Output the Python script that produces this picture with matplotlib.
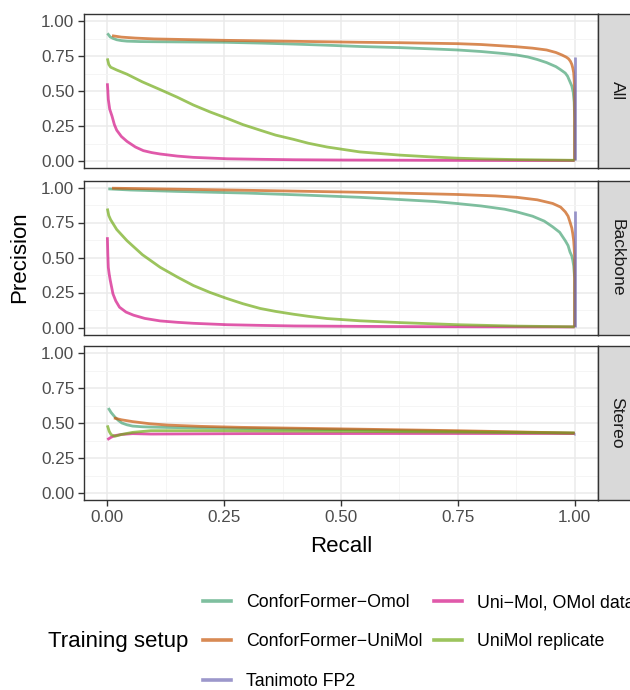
import matplotlib
matplotlib.use("Agg")
import matplotlib.pyplot as plt
from matplotlib.lines import Line2D
from matplotlib.ticker import MultipleLocator, FormatStrFormatter

plt.rcParams['font.family'] = ['Liberation Sans', 'DejaVu Sans']

facets = ["All", "Backbone", "Stereo"]
setups = ["ConforFormer\u2212Omol", "ConforFormer\u2212UniMol", "Tanimoto FP2",
          "Uni\u2212Mol, OMol data", "UniMol replicate"]
colors = ["#49A477", "#C8580C", "#726CB6", "#D31386", "#72AB19"]

# ---- facet "All" ----
all_omol_r = [0.0, 0.003, 0.006, 0.012, 0.02, 0.03, 0.042, 0.07, 0.1, 0.175, 0.25, 0.33, 0.4, 0.47, 0.54,
              0.626, 0.7, 0.75, 0.8, 0.85, 0.876, 0.9, 0.92, 0.94, 0.96, 0.97, 0.98, 0.985, 0.99, 0.994,
              0.997, 0.999, 1.0, 1.0]
all_omol_p = [0.912, 0.9, 0.886, 0.876, 0.866, 0.86, 0.856, 0.853, 0.852, 0.85, 0.848, 0.842, 0.835, 0.827, 0.818,
              0.81, 0.8, 0.793, 0.782, 0.767, 0.757, 0.743, 0.725, 0.703, 0.674, 0.652, 0.628, 0.605, 0.566, 0.535,
              0.49, 0.42, 0.3, 0.005]
all_unimol_r = [0.01, 0.03, 0.06, 0.1, 0.175, 0.25, 0.4, 0.54, 0.626, 0.75, 0.8, 0.876, 0.91, 0.94, 0.96,
                0.973, 0.982, 0.987, 0.991, 0.994, 0.996, 0.998, 0.999, 1.0, 1.0]
all_unimol_p = [0.895, 0.885, 0.878, 0.872, 0.867, 0.862, 0.855, 0.848, 0.845, 0.838, 0.832, 0.816, 0.806, 0.793, 0.775,
                0.757, 0.742, 0.73, 0.712, 0.69, 0.665, 0.63, 0.58, 0.5, 0.005]
all_tani_r = [1.0, 1.0]
all_tani_p = [0.745, 0.005]
all_omoldata_r = [0.0, 0.001, 0.002, 0.005, 0.01, 0.015, 0.02, 0.03, 0.042, 0.06, 0.077, 0.095, 0.113, 0.15,
                  0.184, 0.256, 0.33, 0.4, 0.5, 0.6, 0.8, 1.0]
all_omoldata_p = [0.555, 0.5, 0.44, 0.37, 0.32, 0.26, 0.22, 0.175, 0.14, 0.1, 0.074, 0.06, 0.05, 0.035,
                  0.026, 0.016, 0.012, 0.009, 0.007, 0.006, 0.004, 0.003]
all_repl_r = [0.0, 0.003, 0.007, 0.02, 0.042, 0.075, 0.113, 0.15, 0.184, 0.22, 0.256, 0.29, 0.327, 0.36,
              0.398, 0.43, 0.47, 0.54, 0.626, 0.7, 0.75, 0.8, 0.876, 0.95, 1.0]
all_repl_p = [0.733, 0.69, 0.67, 0.65, 0.62, 0.565, 0.51, 0.455, 0.40, 0.35, 0.305, 0.26, 0.22, 0.185,
              0.155, 0.127, 0.10, 0.065, 0.042, 0.028, 0.02, 0.015, 0.01, 0.007, 0.005]

# ---- facet "Backbone" ----
bb_omol_r = [0.002, 0.05, 0.15, 0.3, 0.42, 0.54, 0.626, 0.7, 0.75, 0.8, 0.85, 0.876, 0.91, 0.935, 0.953,
             0.968, 0.98, 0.986, 0.99, 0.994, 0.996, 0.998, 1.0, 1.0]
bb_omol_p = [0.99, 0.982, 0.972, 0.96, 0.946, 0.93, 0.914, 0.9, 0.885, 0.868, 0.845, 0.826, 0.795, 0.76, 0.719,
             0.68, 0.62, 0.585, 0.54, 0.51, 0.48, 0.44, 0.35, 0.005]
bb_unimol_r = [0.01, 0.15, 0.3, 0.42, 0.54, 0.626, 0.75, 0.83, 0.876, 0.92, 0.953, 0.97, 0.98, 0.986,
               0.99, 0.994, 0.996, 0.998, 0.999, 1.0, 1.0]
bb_unimol_p = [0.995, 0.988, 0.98, 0.973, 0.966, 0.96, 0.95, 0.94, 0.93, 0.912, 0.886, 0.86, 0.826, 0.795,
               0.754, 0.71, 0.67, 0.62, 0.57, 0.5, 0.005]
bb_tani_r = [1.0, 1.0]
bb_tani_p = [0.83, 0.005]
bb_omoldata_r = [0.0, 0.001, 0.002, 0.004, 0.006, 0.009, 0.012, 0.018, 0.026, 0.04, 0.056, 0.08, 0.113,
                 0.15, 0.184, 0.256, 0.33, 0.4, 0.5, 0.6, 0.8, 1.0]
bb_omoldata_p = [0.645, 0.52, 0.43, 0.38, 0.34, 0.29, 0.24, 0.19, 0.145, 0.11, 0.088, 0.065, 0.047,
                 0.037, 0.03, 0.02, 0.015, 0.011, 0.009, 0.007, 0.005, 0.004]
bb_repl_r = [0.0, 0.003, 0.007, 0.02, 0.042, 0.075, 0.113, 0.15, 0.184, 0.22, 0.256, 0.29, 0.327, 0.36,
             0.398, 0.43, 0.47, 0.54, 0.626, 0.7, 0.75, 0.876, 1.0]
bb_repl_p = [0.85, 0.8, 0.77, 0.7, 0.62, 0.52, 0.43, 0.36, 0.30, 0.25, 0.207, 0.17, 0.136, 0.115,
             0.095, 0.08, 0.064, 0.048, 0.035, 0.026, 0.02, 0.01, 0.005]

# ---- facet "Stereo" ----
st_omol_r = [0.002, 0.008, 0.016, 0.023, 0.031, 0.042, 0.054, 0.075, 0.093, 0.13, 0.3, 0.5, 0.75, 1.0]
st_omol_p = [0.607, 0.575, 0.543, 0.52, 0.5, 0.487, 0.478, 0.473, 0.471, 0.468, 0.46, 0.452, 0.44, 0.428]
st_unimol_r = [0.014, 0.03, 0.054, 0.09, 0.13, 0.2, 0.287, 0.4, 0.52, 0.75, 1.0]
st_unimol_p = [0.536, 0.523, 0.51, 0.495, 0.485, 0.476, 0.469, 0.463, 0.457, 0.445, 0.428]
st_tani_r = [0.998, 1.0]
st_tani_p = [0.425, 0.425]
st_omoldata_r = [0.0, 0.008, 0.016, 0.03, 0.054, 0.093, 0.3, 0.6, 1.0]
st_omoldata_p = [0.381, 0.398, 0.41, 0.418, 0.424, 0.421, 0.424, 0.425, 0.425]
st_repl_r = [0.0, 0.004, 0.008, 0.016, 0.03, 0.054, 0.093, 0.21, 0.52, 1.0]
st_repl_p = [0.483, 0.44, 0.417, 0.405, 0.418, 0.433, 0.445, 0.445, 0.44, 0.428]

curves = {
    "All": [(all_omol_r, all_omol_p), (all_unimol_r, all_unimol_p), (all_tani_r, all_tani_p),
            (all_omoldata_r, all_omoldata_p), (all_repl_r, all_repl_p)],
    "Backbone": [(bb_omol_r, bb_omol_p), (bb_unimol_r, bb_unimol_p), (bb_tani_r, bb_tani_p),
                 (bb_omoldata_r, bb_omoldata_p), (bb_repl_r, bb_repl_p)],
    "Stereo": [(st_omol_r, st_omol_p), (st_unimol_r, st_unimol_p), (st_tani_r, st_tani_p),
               (st_omoldata_r, st_omoldata_p), (st_repl_r, st_repl_p)],
}

W, H = 630, 690
fig = plt.figure(figsize=(W / 100, H / 100), dpi=100)


def box(l, t, r, b):
    return [l / W, 1 - b / H, (r - l) / W, (b - t) / H]


panel_tops = [14, 180.5, 346]
panel_h = 154
border = "#333333"
line_alpha = 0.7
lw = 2.0

for i, facet in enumerate(facets):
    top = panel_tops[i]
    ax = fig.add_axes(box(84, top, 598, top + panel_h))
    for (r, p), c in zip(curves[facet], colors):
        ax.plot(r, p, color=c, lw=lw, alpha=line_alpha, solid_capstyle="butt", solid_joinstyle="round")
    ax.set_xlim(-0.05, 1.05)
    ax.set_ylim(-0.05, 1.05)
    ax.xaxis.set_major_locator(MultipleLocator(0.25))
    ax.xaxis.set_minor_locator(MultipleLocator(0.125))
    ax.yaxis.set_major_locator(MultipleLocator(0.25))
    ax.yaxis.set_minor_locator(MultipleLocator(0.125))
    ax.xaxis.set_major_formatter(FormatStrFormatter("%.2f"))
    ax.yaxis.set_major_formatter(FormatStrFormatter("%.2f"))
    ax.grid(which="major", color="#EBEBEB", lw=1.1)
    ax.grid(which="minor", color="#F4F4F4", lw=0.6)
    ax.set_axisbelow(True)
    ax.tick_params(which="minor", length=0)
    ax.tick_params(which="major", length=4, width=1.0, color=border,
                   labelcolor="#4D4D4D", labelsize=12.3, pad=3)
    if i < 2:
        ax.tick_params(axis="x", which="both", bottom=False, labelbottom=False)
    for s in ax.spines.values():
        s.set_color(border)
        s.set_linewidth(1.0)

    strip = fig.add_axes(box(598, top, 640, top + panel_h))
    strip.set_facecolor("#D9D9D9")
    strip.set_xticks([])
    strip.set_yticks([])
    for s in strip.spines.values():
        s.set_color(border)
        s.set_linewidth(1.0)
    strip.text(19 / 42, 0.5, facet, rotation=-90, ha="center", va="center",
               fontsize=12.6, color="#1A1A1A", transform=strip.transAxes)

fig.text(20 / W, 1 - 257 / H, "Precision", rotation=90, ha="center", va="center", fontsize=16)
fig.text(341 / W, 1 - 547 / H, "Recall", ha="center", va="center", fontsize=16)

fig.text(188 / W, 1 - 642 / H, "Training setup", ha="right", va="center", fontsize=16)
handles = [Line2D([], [], color=c, lw=2.6, alpha=line_alpha) for c in colors]
fig.legend(handles, setups, loc="center left", bbox_to_anchor=(203 / W, 1 - 642 / H),
           ncol=2, frameon=False, fontsize=12.75, handlelength=1.6, handletextpad=0.85,
           columnspacing=0.6, labelspacing=1.27, borderpad=0, borderaxespad=0)

fig.savefig("out.png", dpi=100)
